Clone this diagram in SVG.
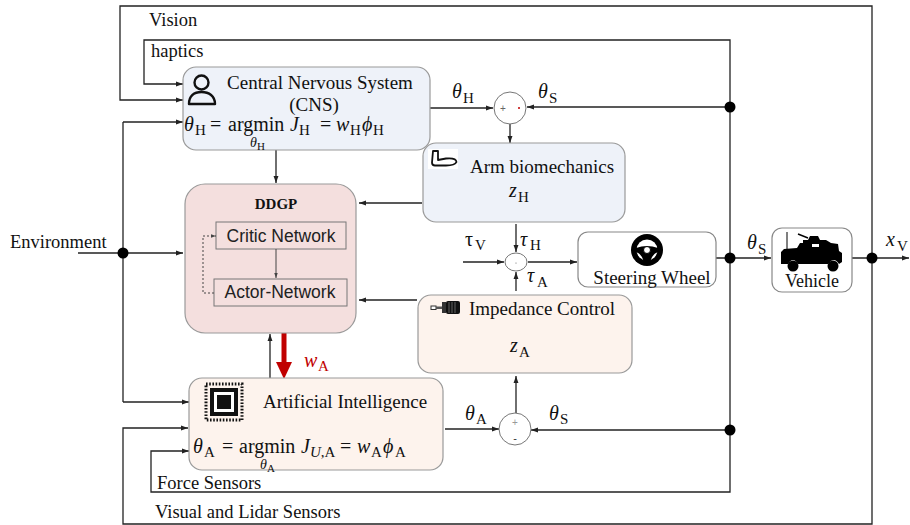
<svg xmlns="http://www.w3.org/2000/svg" width="910" height="525" viewBox="0 0 910 525">
  <style>
    .lbl { font-family: "Liberation Serif", "Times New Roman", serif; font-size: 18.5px; fill: #111; }
    .ttl { font-family: "Liberation Serif", "Times New Roman", serif; font-size: 19px; fill: #111; }
    .sans { font-family: "Liberation Sans", Arial, sans-serif; font-size: 17.5px; fill: #222; }
    .m { font-family: "Liberation Serif", "DejaVu Serif", serif; font-size: 20px; font-style: italic; fill: #111; }
    .mu { font-family: "Liberation Serif", "DejaVu Serif", serif; font-size: 20px; fill: #111; }
    .sub { font-family: "Liberation Serif", "DejaVu Serif", serif; font-size: 15px; fill: #111; }
    .ms { font-family: "Liberation Serif", serif; font-size: 14px; font-style: italic; fill: #111; }
    .ss { font-family: "Liberation Serif", serif; font-size: 11px; fill: #111; }
    .red { fill: #c00000; }
    .wire { fill: none; stroke: #222; stroke-width: 1.3; }
    .box { stroke: #9a9a9a; stroke-width: 1.2; }
    .dot { fill: #000; }
  </style>
  <defs>
    <marker id="ah" viewBox="0 0 10 10" refX="10" refY="5" markerWidth="7" markerHeight="7" orient="auto" markerUnits="userSpaceOnUse">
      <path d="M0,1.5 L10,5 L0,8.5 z" fill="#222"/>
    </marker>
    <marker id="ahs" viewBox="0 0 10 10" refX="10" refY="5" markerWidth="5" markerHeight="5" orient="auto" markerUnits="userSpaceOnUse">
      <path d="M0,1.5 L10,5 L0,8.5 z" fill="#444"/>
    </marker>
  </defs>

  <!-- connectors -->
  <g id="connectors">
    <!-- vision loop -->
    <path class="wire" d="M872,258 V6 H120 V100 H183" marker-end="url(#ah)"/>
    <!-- haptics loop -->
    <path class="wire" d="M730,107 V40 H144 V84 H183" marker-end="url(#ah)"/>
    <!-- visual & lidar sensors -->
    <path class="wire" d="M872,258 V524 H123 V428 H188" marker-end="url(#ah)"/>
    <!-- force sensors -->
    <path class="wire" d="M730,107 V492 H151 V451 H189" marker-end="url(#ah)"/>
    <!-- environment -->
    <path class="wire" d="M78,253 H183" marker-end="url(#ah)"/>
    <path class="wire" d="M123,122 V402"/>
    <path class="wire" d="M123,122 H183" marker-end="url(#ah)"/>
    <path class="wire" d="M123,402 H189" marker-end="url(#ah)"/>
    <!-- human loop -->
    <path class="wire" d="M411,108 H493" marker-end="url(#ah)"/>
    <path class="wire" d="M730,107 H527" marker-end="url(#ah)"/>
    <path class="wire" d="M510,124 V143" marker-end="url(#ah)"/>
    <path class="wire" d="M276,150 V183" marker-end="url(#ah)"/>
    <path class="wire" d="M422,203 H359" marker-end="url(#ah)"/>
    <path class="wire" d="M417,300 H359" marker-end="url(#ah)"/>
    <!-- torque summation -->
    <path class="wire" d="M463,262 H504" marker-end="url(#ah)"/>
    <path class="wire" d="M516,224 V252" marker-end="url(#ah)"/>
    <path class="wire" d="M516,291 V272" marker-end="url(#ah)"/>
    <path class="wire" d="M528,262 H577" marker-end="url(#ah)"/>
    <!-- steering to vehicle to output -->
    <path class="wire" d="M716,258 H771" marker-end="url(#ah)"/>
    <path class="wire" d="M852,258 H909" marker-end="url(#ah)"/>
    <!-- AI loop -->
    <path class="wire" d="M445,429 H499" marker-end="url(#ah)"/>
    <path class="wire" d="M730,430 H531" marker-end="url(#ah)"/>
    <path class="wire" d="M516,413 V376" marker-end="url(#ah)"/>
    <path class="wire" d="M270,378 V334" marker-end="url(#ah)"/>
    <!-- red weight path -->
    <line x1="284" y1="307" x2="284" y2="364" stroke="#c00000" stroke-width="5"/>
    <polygon points="276,362 292,362 284,379" fill="#c00000"/>
    <!-- branch points -->
    <circle class="dot" cx="730" cy="107" r="5.5"/>
    <circle class="dot" cx="123" cy="253" r="5.5"/>
    <circle class="dot" cx="730" cy="258" r="5.5"/>
    <circle class="dot" cx="872" cy="258" r="5.5"/>
    <circle class="dot" cx="730" cy="430" r="5.5"/>
  </g>

  <!-- wire labels -->
  <g id="labels">
    <text class="lbl" x="149" y="26">Vision</text>
    <text class="lbl" x="151" y="57">haptics</text>
    <text class="lbl" x="10" y="248">Environment</text>
    <text class="lbl" x="157" y="489">Force Sensors</text>
    <text class="lbl" x="155" y="518">Visual and Lidar Sensors</text>
    <text class="m" x="452" y="98">θ</text><text class="sub" x="463" y="103">H</text>
    <text class="m" x="538" y="98">θ</text><text class="sub" x="549" y="103">S</text>
    <text class="mu" x="465" y="246">τ</text><text class="sub" x="475" y="250">V</text>
    <text class="m" x="520" y="246">τ</text><text class="sub" x="530" y="250">H</text>
    <text class="m" x="527" y="282">τ</text><text class="sub" x="537" y="287">A</text>
    <text class="m" x="747" y="249">θ</text><text class="sub" x="758" y="254">S</text>
    <text class="m" x="886" y="246">x</text><text class="sub" x="897" y="251">V</text>
    <text class="m" x="465" y="420">θ</text><text class="sub" x="476" y="424">A</text>
    <text class="m" x="549" y="420">θ</text><text class="sub" x="560" y="424">S</text>
    <text class="m red" x="304" y="367">w</text><text class="sub red" x="318" y="371">A</text>
  </g>

  <!-- summing junctions -->
  <g id="sum-theta-h">
    <circle cx="510" cy="108" r="16" fill="#fff" stroke="#777" stroke-width="1"/>
    <text x="503" y="112" font-family="Liberation Sans, sans-serif" font-size="10" fill="#666" text-anchor="middle">+</text>
    <circle cx="519" cy="108" r="1" fill="#c00000"/>
  </g>
  <g id="sum-tau">
    <ellipse cx="516" cy="262" rx="11" ry="9" fill="#fff" stroke="#777" stroke-width="1"/>
    <circle cx="516" cy="263" r="0.6" fill="#666"/>
  </g>
  <g id="sum-theta-a">
    <circle cx="515" cy="429" r="16" fill="#fff" stroke="#777" stroke-width="1"/>
    <text x="515" y="426" font-family="Liberation Sans, sans-serif" font-size="10" fill="#999" text-anchor="middle">+</text>
    <text x="515" y="442" font-family="Liberation Sans, sans-serif" font-size="11" fill="#333" text-anchor="middle">-</text>
  </g>

  <!-- Central Nervous System -->
  <g id="cns">
    <rect class="box" x="183" y="67" width="247" height="83" rx="13" fill="#eef2f9"/>
    <circle cx="201.5" cy="82.5" r="7" fill="none" stroke="#111" stroke-width="2.4"/>
    <path d="M189,104 C189,96 194,92 201.5,92 C209,92 215,96 215,104 Z" fill="none" stroke="#111" stroke-width="2.4" stroke-linejoin="round"/>
    <text class="ttl" x="320" y="89" text-anchor="middle">Central Nervous System</text>
    <text class="ttl" x="314" y="111" text-anchor="middle">(CNS)</text>
    <text class="m" x="184" y="131">θ</text><text class="sub" x="195" y="135">H</text>
    <text class="mu" x="210" y="131">=</text>
    <text class="mu" x="228" y="131">argmin</text>
    <text class="m" x="290" y="131">J</text><text class="sub" x="299" y="135">H</text>
    <text class="mu" x="320" y="131">=</text>
    <text class="m" x="336" y="131">w</text><text class="sub" x="350" y="135">H</text>
    <text class="m" x="362" y="131">ϕ</text><text class="sub" x="373" y="135">H</text>
    <text class="ms" x="250" y="147">θ</text><text class="ss" x="257" y="150">H</text>
  </g>

  <!-- Arm biomechanics -->
  <g id="arm">
    <rect class="box" x="423" y="143" width="202" height="79" rx="13" fill="#eef2f9"/>
    <rect x="428" y="149" width="30" height="20" fill="#fff"/>
    <path d="M433,151 L438,151 L438,160 L446,158.5 Q456,157.5 456.5,162 Q455,165.5 446,165.5 L435,165.5 Q432,165.5 432,162.5 Z" fill="none" stroke="#111" stroke-width="1.8" stroke-linejoin="round"/>
    <text class="ttl" x="470" y="173">Arm biomechanics</text>
    <text class="m" x="509" y="197">z</text><text class="sub" x="518" y="202">H</text>
  </g>

  <!-- DDGP agent -->
  <g id="ddgp">
    <rect class="box" x="185" y="184" width="171" height="149" rx="20" fill="#f4dfde"/>
    <text x="276" y="209" font-family="Liberation Serif, serif" font-size="15" font-weight="bold" fill="#111" text-anchor="middle">DDGP</text>
    <g id="critic">
      <rect x="216" y="222" width="130" height="27" fill="none" stroke="#777" stroke-width="1"/>
      <text class="sans" x="281" y="242" text-anchor="middle">Critic Network</text>
    </g>
    <g id="actor">
      <rect x="214" y="279" width="133" height="27" fill="none" stroke="#777" stroke-width="1"/>
      <text class="sans" x="280" y="298" text-anchor="middle">Actor-Network</text>
    </g>
    <path d="M276,249 V278" fill="none" stroke="#444" stroke-width="1" marker-end="url(#ahs)"/>
    <path d="M214,293 H203 V236 H216" fill="none" stroke="#444" stroke-width="1" stroke-dasharray="2,2" marker-end="url(#ahs)"/>
  </g>

  <!-- Steering wheel -->
  <g id="steering">
    <rect x="578" y="232" width="138" height="55" rx="10" fill="#fff" stroke="#888" stroke-width="1.2"/>
    <circle cx="647" cy="250" r="16" fill="#000"/>
    <circle cx="647" cy="250" r="10.5" fill="#fff"/>
    <path d="M636,248 Q647,244 658,248 L658,252 Q652,254 650,262 L644,262 Q642,254 636,252 Z" fill="#000"/>
    <circle cx="647" cy="250" r="3.5" fill="#fff" stroke="#000" stroke-width="1"/>
    <text class="ttl" x="652" y="284" text-anchor="middle">Steering Wheel</text>
  </g>

  <!-- Vehicle -->
  <g id="vehicle">
    <rect x="772" y="228" width="80" height="64" rx="10" fill="#fff" stroke="#888" stroke-width="1.2"/>
    <line x1="787" y1="232" x2="787" y2="252" stroke="#000" stroke-width="1"/>
    <path d="M781,252 L784,249 L797,248 L800,243 L803,243 L803,240 L808,240 L810,236 L818,236 L820,240 L826,240 L831,243 L838,244 L839,251 L842,253 L842,262 L839,264 Q834,256 828,264 L798,264 Q793,256 788,264 L781,264 Z" fill="#000"/>
    <line x1="808" y1="238" x2="798" y2="234" stroke="#000" stroke-width="1.5"/>
    <circle cx="793" cy="266" r="5.5" fill="#000"/>
    <circle cx="833" cy="266" r="5.5" fill="#000"/>
    <rect x="812" y="244" width="7" height="3" fill="#fff"/>
    <text class="lbl" x="812" y="287" text-anchor="middle" style="font-size:18px">Vehicle</text>
  </g>

  <!-- Impedance control -->
  <g id="impedance">
    <rect class="box" x="418" y="295" width="214" height="78" rx="13" fill="#fdf3ed"/>
    <rect x="431" y="306" width="5" height="3.5" fill="#fff" stroke="#333" stroke-width="1"/>
    <rect x="436" y="306.5" width="6" height="2.5" fill="#555"/>
    <rect x="442" y="302" width="4" height="11" fill="#333"/>
    <rect x="446" y="301" width="14" height="13" rx="2" fill="#111"/>
    <path d="M449,302 V313 M452,302 V313 M455,302 V313" stroke="#777" stroke-width="0.8"/>
    <text class="ttl" x="469" y="315">Impedance Control</text>
    <text class="m" x="510" y="352">z</text><text class="sub" x="519" y="357">A</text>
  </g>

  <!-- Artificial intelligence -->
  <g id="ai">
    <rect class="box" x="189" y="378" width="254" height="92" rx="13" fill="#fdf3ed"/>
    <rect x="206" y="384" width="36" height="36" fill="none" stroke="#111" stroke-width="3" stroke-dasharray="1.6,1.6"/>
    <rect x="210" y="388" width="28" height="28" fill="#111"/>
    <rect x="214" y="392" width="20" height="20" fill="#fff"/>
    <rect x="217" y="395" width="14" height="14" fill="#111"/>
    <text class="ttl" x="263" y="408">Artificial Intelligence</text>
    <text class="m" x="193" y="453">θ</text><text class="sub" x="204" y="457">A</text>
    <text class="mu" x="222" y="453">=</text>
    <text class="mu" x="239" y="453">argmin</text>
    <text class="m" x="301" y="453">J</text><text class="sub" x="310" y="457"><tspan font-style="italic">U</tspan>,A</text>
    <text class="mu" x="340" y="453">=</text>
    <text class="m" x="357" y="453">w</text><text class="sub" x="371" y="457">A</text>
    <text class="m" x="383" y="453">ϕ</text><text class="sub" x="395" y="457">A</text>
    <text class="ms" x="260" y="469">θ</text><text class="ss" x="267" y="472">A</text>
  </g>
</svg>
